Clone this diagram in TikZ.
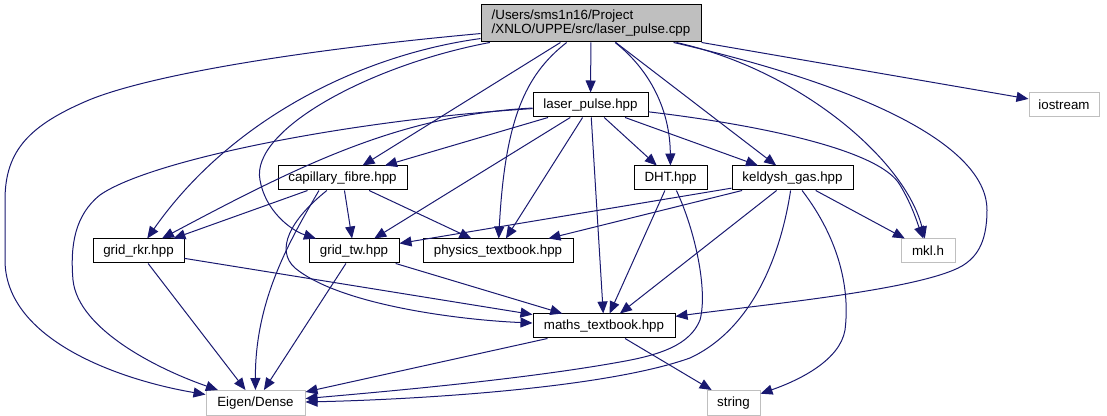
\documentclass[tikz,border=0pt]{standalone}
\usepackage{fontspec}
\setmainfont{Liberation Sans}
\usetikzlibrary{arrows.meta}
\definecolor{edgeblue}{HTML}{191970}
\definecolor{sysgray}{HTML}{BFBFBF}
\tikzset{
	hdr/.style={draw=black, fill=white, line width=0.75pt, minimum height=18pt, inner sep=2pt, font=\fontsize{10}{12}\selectfont},
	syshdr/.style={hdr, draw=sysgray},
	srcfile/.style={hdr, fill=sysgray, align=left, minimum height=27.75pt, font=\fontsize{10}{10.5}\selectfont},
	dep/.style={draw=edgeblue, line width=0.75pt, -{Triangle[length=9pt,width=7.5pt]}}
}
\begin{document}
\begin{tikzpicture}[x=0.75pt,y=-0.75pt]
	\useasboundingbox (0,0) rectangle (1107,416);
	% files
	\node[srcfile, minimum width=165pt] (main) at (591,23.5) {/Users/sms1n16/Project\\/XNLO/UPPE/src/laser\_pulse.cpp};
	\node[hdr, minimum width=86.25pt] (laser) at (590.5,105) {laser\_pulse.hpp};
	\node[syshdr, minimum width=52.5pt] (iostream) at (1064,105) {iostream};
	\node[hdr, minimum width=96.75pt] (capillary) at (342.5,178) {capillary\_fibre.hpp};
	\node[hdr, minimum width=54.75pt] (dht) at (670.5,178) {DHT.hpp};
	\node[hdr, minimum width=90.75pt] (keldysh) at (792.5,178) {keldysh\_gas.hpp};
	\node[hdr, minimum width=68.25pt] (gridrkr) at (138.5,251) {grid\_rkr.hpp};
	\node[hdr, minimum width=67.5pt] (gridtw) at (354,251) {grid\_tw.hpp};
	\node[hdr, minimum width=112.5pt] (physics) at (498,251) {physics\_textbook.hpp};
	\node[syshdr, minimum width=40.5pt] (mkl) at (928,251) {mkl.h};
	\node[hdr, minimum width=106.5pt] (maths) at (604,326) {maths\_textbook.hpp};
	\node[syshdr, minimum width=74.25pt, minimum height=18.75pt] (eigen) at (255.5,403) {Eigen/Dense};
	\node[syshdr, minimum width=39.75pt, minimum height=18.75pt] (string) at (733.5,403) {string};
	% laser_pulse.cpp
	\draw[dep] (main) .. controls (300,50) and (150,75) .. (89,100) .. controls (30,125) and (5,150) .. (5,200) -- (5,260) .. controls (5,340) and (120,380) .. (eigen);
	\draw[dep] (main) .. controls (360,55) and (230,120) .. (gridrkr);
	\draw[dep] (main) .. controls (370,65) and (250,130) .. (260,180) .. controls (265,210) and (290,230) .. (gridtw);
	\draw[dep] (main) -- (capillary);
	\draw[dep] (main) .. controls (525,75) and (505,120) .. (physics);
	\draw[dep] (main) -- (laser);
	\draw[dep] (main) .. controls (650,70) and (670,110) .. (dht);
	\draw[dep] (main) -- (keldysh);
	\draw[dep] (main) .. controls (800,70) and (905,160) .. (mkl);
	\draw[dep] (main) .. controls (880,90) and (987,150) .. (987,210) .. controls (987,245) and (975,258) .. (962,266) .. controls (920,290) and (760,305) .. (maths);
	\draw[dep] (main) -- (iostream);
	% laser_pulse.hpp
	\draw[dep] (laser) .. controls (350,120) and (150,160) .. (100,195) .. controls (75,215) and (70,245) .. (73,280) .. controls (78,330) and (160,370) .. (eigen);
	\draw[dep] (laser) .. controls (400,115) and (300,165) .. (gridrkr);
	\draw[dep] (laser) -- (capillary);
	\draw[dep] (laser) -- (gridtw);
	\draw[dep] (laser) -- (physics);
	\draw[dep] (laser) -- (maths);
	\draw[dep] (laser) -- (dht);
	\draw[dep] (laser) -- (keldysh);
	\draw[dep] (laser) .. controls (760,125) and (880,150) .. (900,185) .. controls (912,205) and (917,222) .. (mkl);
	% capillary_fibre.hpp
	\draw[dep] (capillary) -- (gridrkr);
	\draw[dep] (capillary) -- (gridtw);
	\draw[dep] (capillary) -- (physics);
	\draw[dep] (capillary) .. controls (290,220) and (275,250) .. (295,268) .. controls (340,305) and (460,320) .. (maths);
	\draw[dep] (capillary.208) .. controls (290,240) and (255,300) .. (eigen);
	% keldysh_gas.hpp
	\draw[dep] (keldysh) -- (gridtw);
	\draw[dep] (keldysh) -- (physics);
	\draw[dep] (keldysh) -- (mkl);
	\draw[dep] (keldysh) -- (maths);
	\draw[dep] (keldysh) .. controls (780,260) and (750,330) .. (690,358) .. controls (600,390) and (400,400) .. (eigen);
	\draw[dep] (keldysh) .. controls (840,240) and (850,290) .. (845,330) .. controls (840,360) and (800,380) .. (string);
	% DHT.hpp
	\draw[dep] (dht) -- (maths);
	\draw[dep] (dht) .. controls (695,230) and (708,290) .. (700,320) .. controls (690,345) and (660,355) .. (620,362) .. controls (520,380) and (380,392) .. (eigen);
	% grids and maths
	\draw[dep] (gridrkr) -- (maths);
	\draw[dep] (gridrkr) -- (eigen);
	\draw[dep] (gridtw) -- (maths);
	\draw[dep] (gridtw) -- (eigen);
	\draw[dep] (maths) -- (eigen);
	\draw[dep] (maths) -- (string);
\end{tikzpicture}
\end{document}
